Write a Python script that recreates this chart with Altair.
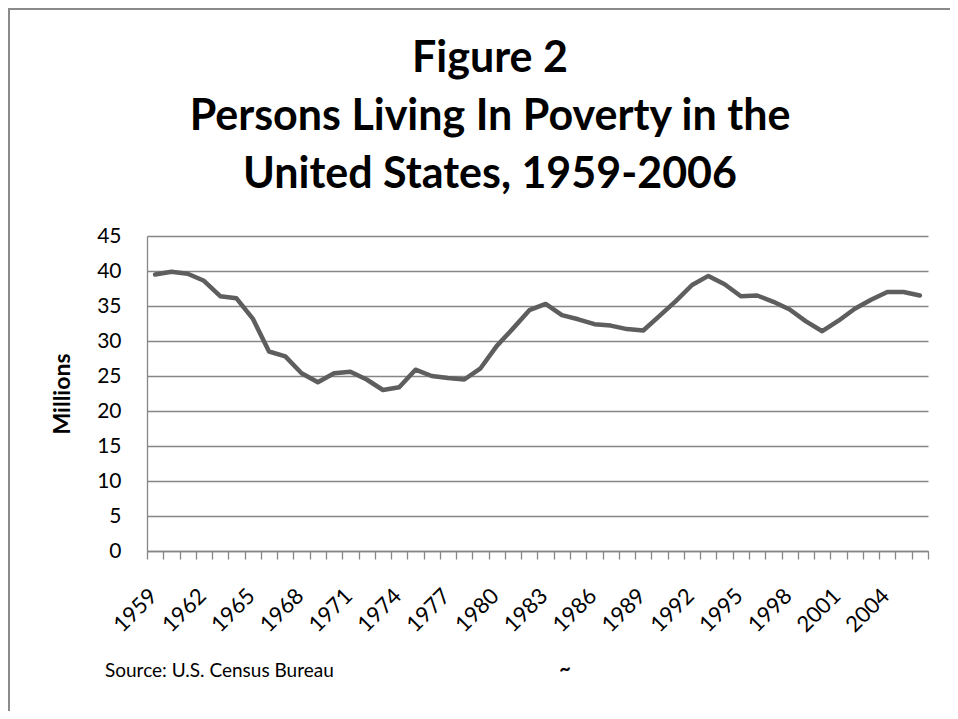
import altair as alt
import pandas as pd

years = ["1959", "1960", "1961", "1962", "1963", "1964", "1965", "1966", "1967", "1968",
         "1969", "1970", "1971", "1972", "1973", "1974", "1975", "1976", "1977", "1978",
         "1979", "1980", "1981", "1982", "1983", "1984", "1985", "1986", "1987", "1988",
         "1989", "1990", "1991", "1992", "1993", "1994", "1995", "1996", "1997", "1998",
         "1999", "2000", "2001", "2002", "2003", "2004", "2005", "2006"]
poverty = [39.5, 39.9, 39.6, 38.6, 36.4, 36.1, 33.2, 28.5, 27.8, 25.4,
           24.1, 25.4, 25.6, 24.5, 23.0, 23.4, 25.9, 25.0, 24.7, 24.5,
           26.1, 29.3, 31.8, 34.4, 35.3, 33.7, 33.1, 32.4, 32.2, 31.7,
           31.5, 33.6, 35.7, 38.0, 39.3, 38.1, 36.4, 36.5, 35.6, 34.5,
           32.8, 31.4, 32.9, 34.6, 35.9, 37.0, 37.0, 36.5]
shown_labels = ["1959", "1962", "1965", "1968", "1971", "1974", "1977", "1980",
                "1983", "1986", "1989", "1992", "1995", "1998", "2001", "2004"]
y_ticks = [0, 5, 10, 15, 20, 25, 30, 35, 40, 45]

title_lines = ["Figure 2", "Persons Living In Poverty in the", "United States, 1959-2006"]
source_text = "Source: U.S. Census Bureau"

df = pd.DataFrame({"year": years, "value": poverty})
one = pd.DataFrame({"k": [0]})

FONT = "Lato"
GRAY = "#868686"

label_list = "[" + ",".join("'" + s + "'" for s in shown_labels) + "]"

line = alt.Chart(df).mark_line(color="#5e5e5e", strokeWidth=4.5, strokeJoin="round", strokeCap="round").encode(
    x=alt.X("year:O", sort=None, bandPosition=0.5,
            scale=alt.Scale(type="band", paddingInner=0, paddingOuter=0),
            axis=alt.Axis(title=None, tickBand="extent", ticks=True, tickSize=8,
                          tickColor=GRAY, tickWidth=1.3, domainColor=GRAY, domainWidth=1.3,
                          labelAngle=-45, labelAlign="right", labelBaseline="alphabetic",
                          labelPadding=38, labelOffset=3, labelFont=FONT, labelFontSize=22,
                          labelColor="#000000", labelOverlap=False, labelFlush=False,
                          labelBound=False, grid=False,
                          labelExpr="indexof(" + label_list + ", datum.value) >= 0 ? datum.label : ''")),
    y=alt.Y("value:Q",
            scale=alt.Scale(domain=[0, 45], nice=False, zero=True),
            axis=alt.Axis(values=y_ticks, title="Millions", titleFont=FONT, titleFontSize=23,
                          titleFontWeight="bold", titleColor="#000000", titleAngle=270,
                          titleX=-85, titleY=157.5, titleAlign="center", titleBaseline="middle",
                          ticks=False, labelPadding=26, labelFont=FONT, labelFontSize=21,
                          labelColor="#000000", domainColor=GRAY, domainWidth=1.3,
                          grid=True, gridColor=GRAY, gridWidth=1.3)),
)

title_df = pd.DataFrame({"t": ["\n".join(title_lines)]})
title = alt.Chart(title_df).mark_text(
    font=FONT, fontSize=43, fontWeight="bold", color="#000000", align="center",
    baseline="alphabetic", lineBreak="\n", lineHeight=58
).encode(text="t:N", x=alt.value(343), y=alt.value(-164))

src_df = pd.DataFrame({"t": [source_text]})
source = alt.Chart(src_df).mark_text(
    font=FONT, fontSize=19, color="#000000", align="left", baseline="alphabetic"
).encode(text="t:N", x=alt.value(-42), y=alt.value(441))

tilde_df = pd.DataFrame({"t": ["~"]})
tilde = alt.Chart(tilde_df).mark_text(
    font=FONT, fontSize=20, fontWeight="bold", color="#000000", align="center", baseline="alphabetic"
).encode(text="t:N", x=alt.value(418), y=alt.value(440))

border_left = alt.Chart(one).mark_rect(color="#8a8a8a", strokeWidth=0).encode(
    x=alt.value(-139), x2=alt.value(-137), y=alt.value(-228), y2=alt.value(483))
border_top = alt.Chart(one).mark_rect(color="#8a8a8a", strokeWidth=0).encode(
    x=alt.value(-139), x2=alt.value(803), y=alt.value(-228), y2=alt.value(-226))

chart = alt.layer(border_left, border_top, line, title, source, tilde).properties(
    width=781, height=315,
    padding={"left": 139, "top": 228, "right": 22, "bottom": 160},
    autosize=alt.AutoSizeParams(type="none"),
    background="#ffffff",
).configure_view(strokeWidth=0)

chart.save("out.html", embed_options={"renderer": "svg", "actions": False})
